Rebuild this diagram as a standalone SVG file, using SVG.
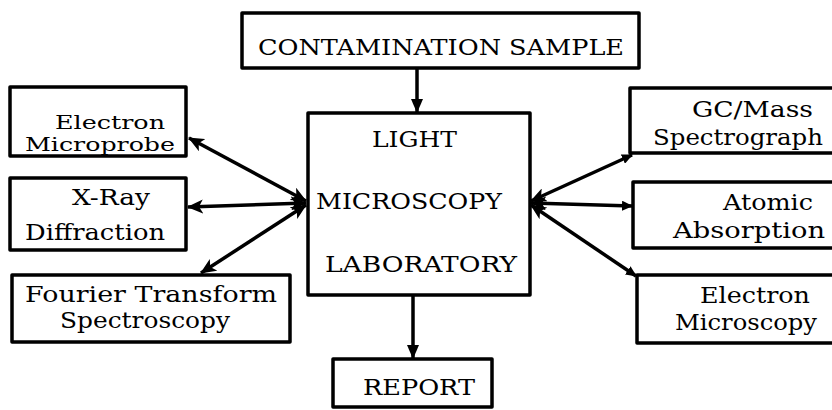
<svg xmlns="http://www.w3.org/2000/svg" width="832" height="410" viewBox="0 0 832 410">
<style>
.box{fill:#fff;stroke:#000;stroke-width:3.5;stroke-linejoin:round}
.t{font-family:"DejaVu Serif","Liberation Serif",serif;font-size:22px;fill:#000}
.s{font-size:18.8px}
.c{stroke:#000;stroke-width:3.5;fill:none}
</style>
<defs>
<marker id="big" viewBox="0 0 16 14" refX="15" refY="7" markerWidth="16" markerHeight="14" markerUnits="userSpaceOnUse" orient="auto-start-reverse">
<path d="M0,0 L16,7 L0,14 L4,7 Z" fill="#000"/>
</marker>
<marker id="small" viewBox="0 0 11 10" refX="10" refY="5" markerWidth="11" markerHeight="10" markerUnits="userSpaceOnUse" orient="auto-start-reverse">
<path d="M0,0 L11,5 L0,10 Z" fill="#000"/>
</marker>
<marker id="down" viewBox="0 0 12 14" refX="6" refY="13" markerWidth="12" markerHeight="14" markerUnits="userSpaceOnUse" orient="0">
<path d="M0,0 L12,0 L6,14 Z" fill="#000"/>
</marker>
</defs>
<rect width="832" height="410" fill="#fff"/>
<g id="connectors">
<line class="c" x1="417" y1="68" x2="417" y2="112" marker-end="url(#down)"/>
<line class="c" x1="413" y1="295" x2="413" y2="358" marker-end="url(#down)"/>
<line class="c" x1="189" y1="138" x2="306" y2="201" marker-start="url(#big)" marker-end="url(#big)"/>
<line class="c" x1="188" y1="207" x2="306" y2="203" marker-start="url(#big)" marker-end="url(#big)"/>
<line class="c" x1="201" y1="273" x2="306" y2="205" marker-start="url(#big)" marker-end="url(#big)"/>
<line class="c" x1="531" y1="201" x2="632" y2="155" marker-start="url(#big)" marker-end="url(#small)"/>
<line class="c" x1="531" y1="203" x2="632" y2="206" marker-start="url(#big)" marker-end="url(#small)"/>
<line class="c" x1="531" y1="205" x2="636" y2="276" marker-start="url(#big)" marker-end="url(#small)"/>
</g>
<g id="contamination">
<rect class="box" x="242" y="13" width="397" height="55"/>
<text class="t" x="258" y="55" textLength="366" lengthAdjust="spacingAndGlyphs">CONTAMINATION SAMPLE</text>
</g>
<g id="lab">
<rect class="box" x="308" y="113" width="222" height="182"/>
<text class="t" x="372" y="147" textLength="85" lengthAdjust="spacingAndGlyphs">LIGHT</text>
<text class="t" x="316" y="209" textLength="186" lengthAdjust="spacingAndGlyphs">MICROSCOPY</text>
<text class="t" x="325" y="272" textLength="192" lengthAdjust="spacingAndGlyphs">LABORATORY</text>
</g>
<g id="report">
<rect class="box" x="333" y="359" width="159" height="48"/>
<text class="t" x="363" y="395" textLength="112" lengthAdjust="spacingAndGlyphs">REPORT</text>
</g>
<g id="microprobe">
<rect class="box" x="10" y="87" width="176" height="69"/>
<text class="t s" x="55" y="129" textLength="110" lengthAdjust="spacingAndGlyphs">Electron</text>
<text class="t s" x="25" y="151" textLength="150" lengthAdjust="spacingAndGlyphs">Microprobe</text>
</g>
<g id="xray">
<rect class="box" x="10" y="178" width="176" height="72"/>
<text class="t" x="72" y="205" textLength="78" lengthAdjust="spacingAndGlyphs">X-Ray</text>
<text class="t" x="25" y="240" textLength="140" lengthAdjust="spacingAndGlyphs">Diffraction</text>
</g>
<g id="fourier">
<rect class="box" x="12" y="275" width="278" height="67"/>
<text class="t" x="25" y="302" textLength="252" lengthAdjust="spacingAndGlyphs">Fourier Transform</text>
<text class="t" x="60" y="328" textLength="170" lengthAdjust="spacingAndGlyphs">Spectroscopy</text>
</g>
<g id="gcmass">
<rect class="box" x="630" y="88" width="220" height="65"/>
<text class="t" x="692" y="117" textLength="121" lengthAdjust="spacingAndGlyphs">GC/Mass</text>
<text class="t" x="653" y="145" textLength="170" lengthAdjust="spacingAndGlyphs">Spectrograph</text>
</g>
<g id="atomic">
<rect class="box" x="633" y="182" width="220" height="66"/>
<text class="t" x="723" y="210" textLength="90" lengthAdjust="spacingAndGlyphs">Atomic</text>
<text class="t" x="673" y="238" textLength="152" lengthAdjust="spacingAndGlyphs">Absorption</text>
</g>
<g id="emicroscopy">
<rect class="box" x="637" y="275" width="220" height="68"/>
<text class="t" x="700" y="303" textLength="110" lengthAdjust="spacingAndGlyphs">Electron</text>
<text class="t" x="675" y="330" textLength="142" lengthAdjust="spacingAndGlyphs">Microscopy</text>
</g>
</svg>
